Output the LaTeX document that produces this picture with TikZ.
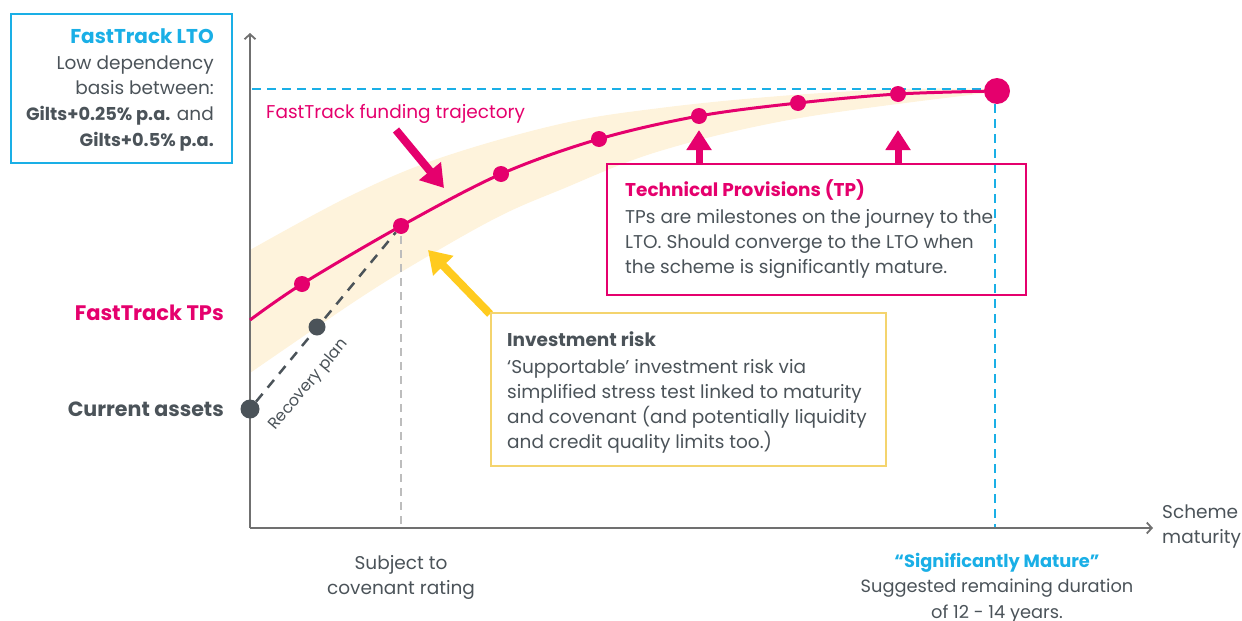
\documentclass[tikz,border=0pt]{standalone}
\usepackage{fontspec}
\setmainfont{Poppins}
\usetikzlibrary{arrows.meta}
\definecolor{ftpink}{HTML}{E5006D}
\definecolor{ftblue}{HTML}{1AAFE6}
\definecolor{ftgray}{HTML}{4B5359}
\definecolor{ftaxis}{HTML}{707070}
\definecolor{ftlight}{HTML}{BDBDBD}
\definecolor{ftyellow}{HTML}{FFCB1F}
\definecolor{ftyellowbox}{HTML}{F4D46E}
\definecolor{ftband}{HTML}{FEF3DC}
\begin{document}
\begin{tikzpicture}[x=1pt,y=-1pt,
  body/.style={font=\fontsize{18.5}{25}\selectfont, text=ftgray, inner sep=0pt},
  pinkdot/.style={circle, fill=ftpink, inner sep=0pt, minimum size=16pt},
  graydot/.style={circle, fill=ftgray, inner sep=0pt, minimum size=17pt},
  axisline/.style={draw=ftaxis, line width=1.8pt},
  bluedash/.style={draw=ftblue, line width=2.5pt, dash pattern=on 9pt off 6pt},
  fatarrow/.style={line width=8pt, -{Triangle[length=22pt,width=27pt]}},
  uparrow/.style={draw=ftpink, line width=7pt, -{Triangle[length=20pt,width=24pt]}},
  infobox/.style={line width=1.5pt, anchor=north west, inner sep=0pt}]
\useasboundingbox (0,0) rectangle (1242,621);

% confidence band around the trajectory
\fill[ftband] plot[smooth, tension=0.6] coordinates {(250,250) (350,196) (440,158) (560,124) (660,108) (780,96) (900,89) (995,89)}
  -- plot[smooth, tension=0.6] coordinates {(995,92) (800,118) (660,151) (560,190) (500,216) (430,255) (360,298) (250,373)} -- cycle;

% reference lines
\coordinate (ltol) at (252,89);
\coordinate (ltor) at (984,89);
\coordinate (matt) at (995,104);
\coordinate (matb) at (995,527);
\draw[bluedash] (ltol) -- (ltor);
\draw[bluedash] (matt) -- (matb);
\coordinate (covt) at (401,236);
\coordinate (covb) at (401,527);
\draw[ftlight, line width=2.5pt, dash pattern=on 8pt off 6pt] (covt) -- (covb);

% axes
\coordinate (origin) at (250,528);
\coordinate (ytop) at (250,33);
\coordinate (xend) at (1153,528);
\draw[axisline, -{Straight Barb[length=5pt,width=11pt]}] (origin) -- (ytop);
\draw[axisline, -{Straight Barb[length=5pt,width=11pt]}] (origin) -- (xend);

% funding trajectory
\draw[ftpink, line width=3pt] plot[smooth, tension=0.55] coordinates {(250,320) (302,284) (401,226) (501,174) (599,139) (699,116) (798,103) (898,94) (997,91)};

% recovery plan
\node[graydot, minimum size=19pt] (assets) at (250,409) {};
\node[pinkdot] (d2) at (401,226) {};
\draw[ftgray, line width=2.5pt, dash pattern=on 10pt off 8pt] (assets) -- (d2);
\node[graydot] (rp) at (317,327) {};
\node[body, font=\fontsize{16}{18}\selectfont, rotate=50] (rplabel) at (309,385) {Recovery plan};

% milestones
\node[pinkdot] (d1) at (302,284) {};
\node[pinkdot] (d3) at (501,174) {};
\node[pinkdot] (d4) at (599,139) {};
\node[pinkdot] (d5) at (699,116) {};
\node[pinkdot] (d6) at (798,103) {};
\node[pinkdot] (d7) at (898,94) {};
\node[pinkdot, minimum size=26pt] (lto) at (997,91) {};

% pointer arrows
\coordinate (fa1) at (396,130);
\coordinate (fa2) at (444,188);
\draw[ftpink, fatarrow] (fa1) -- (fa2);
\coordinate (ya1) at (490,314);
\coordinate (ya2) at (428,250);
\draw[ftyellow, fatarrow] (ya1) -- (ya2);
\coordinate (ua1) at (699,164);
\coordinate (ua2) at (699,130);
\coordinate (ub1) at (898,164);
\coordinate (ub2) at (898,130);
\draw[uparrow] (ua1) -- (ua2);
\draw[uparrow] (ub1) -- (ub2);

% boxes
\node[infobox, draw=ftblue, minimum width=221pt, minimum height=149pt] (ltobox) at (10,13) {};
\node[infobox, draw=ftpink, minimum width=419pt, minimum height=131pt] (tpbox) at (606,163) {};
\node[infobox, draw=ftyellowbox, minimum width=395pt, minimum height=153pt] (irbox) at (490,312) {};

% box texts (anchored on the baseline of their last line)
\node[body, anchor=base east, align=right, font=\fontsize{18.5}{25.6}\selectfont] (ltotext) at (214,146)
  {\textcolor{ftblue}{\fontsize{20}{25.6}\selectfont\textbf{FastTrack LTO}}\\ Low dependency\\ basis between:\\ {\fontsize{17.8}{25.6}\selectfont\textbf{Gilts+0.25\% p.a.}} and\\ {\fontsize{17.8}{25.6}\selectfont\textbf{Gilts+0.5\% p.a.}}};
\node[body, anchor=base west, align=left, font=\fontsize{18.5}{24.7}\selectfont] (tptext) at (625,273)
  {\textcolor{ftpink}{\textbf{Technical Provisions (TP)}}\\[2pt] TPs are milestones on the journey to the\\ LTO. Should converge to the LTO when\\ the scheme is significantly mature.};
\node[body, anchor=base west, align=left, font=\fontsize{18.5}{25}\selectfont] (irtext) at (507,448)
  {\textbf{Investment risk}\\[2pt] ‘Supportable’ investment risk via\\ simplified stress test linked to maturity\\ and covenant (and potentially liquidity\\ and credit quality limits too.)};

% free labels
\node[body, anchor=base west, text=ftpink] (trajlabel) at (266,118) {FastTrack funding trajectory};
\node[body, anchor=base east, text=ftpink, font=\bfseries\fontsize{21}{25}\selectfont] (tplabel) at (224,320) {FastTrack TPs};
\node[body, anchor=base east, font=\bfseries\fontsize{20.6}{25}\selectfont] (calabel) at (224,416) {Current assets};
\node[body, anchor=base, align=center] (covlabel) at (401,594) {Subject to\\ covenant rating};
\node[body, anchor=base, align=center, font=\fontsize{17.8}{25.5}\selectfont] (matlabel) at (997,618)
  {\textcolor{ftblue}{\textbf{“Significantly Mature”}}\\ Suggested remaining duration\\ of 12 - 14 years.};
\node[body, anchor=base west, align=left] (xlabel) at (1162,543) {Scheme\\ maturity};
\end{tikzpicture}
\end{document}
